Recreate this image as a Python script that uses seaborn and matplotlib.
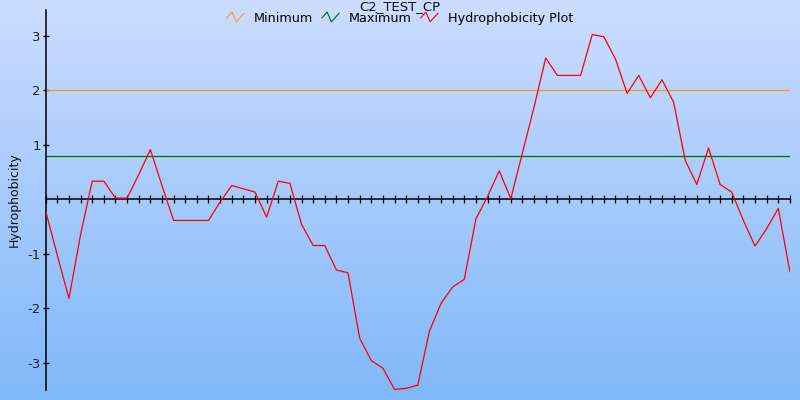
import numpy as np
import pandas as pd
import matplotlib
matplotlib.use("Agg")
import matplotlib.pyplot as plt
from matplotlib.lines import Line2D
from matplotlib.legend_handler import HandlerBase
import seaborn as sns

title = "C2_TEST_CP"
y_label = "Hydrophobicity"
series_names = ["Minimum", "Maximum", "Hydrophobicity Plot"]
minimum_value = 2.0
maximum_value = 0.8
hydro = [-0.22, -1.03, -1.82, -0.65, 0.33, 0.33, 0.02, 0.02, 0.45, 0.91,
         0.25, -0.39, -0.39, -0.39, -0.39, -0.05, 0.25, 0.19, 0.13, -0.33,
         0.33, 0.29, -0.46, -0.85, -0.85, -1.30, -1.35, -2.55, -2.96, -3.10,
         -3.49, -3.47, -3.41, -2.42, -1.91, -1.61, -1.47, -0.36, 0.05, 0.52,
         0.01, 0.85, 1.69, 2.59, 2.27, 2.27, 2.27, 3.02, 2.98, 2.57,
         1.94, 2.27, 1.86, 2.19, 1.78, 0.71, 0.27, 0.94, 0.27, 0.13,
         -0.39, -0.86, -0.54, -0.17, -1.33]
positions = list(range(len(hydro)))
y_ticks = [-3, -2, -1, 1, 2, 3]

plt.rcParams['font.family'] = ['DejaVu Sans']

fig = plt.figure(figsize=(8, 4), dpi=100)

# background gradient
bg = fig.add_axes([0, 0, 1, 1], zorder=-10)
grad = np.linspace(0, 1, 256).reshape(-1, 1)
top = np.array([0.80, 0.867, 1.0])
bot = np.array([0.50, 0.72, 0.975])
img = top[None, None, :] * (1 - grad[:, :, None]) + bot[None, None, :] * grad[:, :, None]
bg.imshow(img, aspect='auto', extent=[0, 1, 0, 1])
bg.set_axis_off()

ax = fig.add_axes([45.7 / 800, 10 / 400, (789.9 - 45.7) / 800, 380 / 400])
ax.patch.set_alpha(0)

df = pd.DataFrame({"x": positions, "y": hydro})
ax.axhline(minimum_value, color="#f0a020", lw=0.9, zorder=2)
ax.axhline(maximum_value, color="#007000", lw=0.9, zorder=2)
sns.lineplot(data=df, x="x", y="y", ax=ax, color="#ff0000", lw=0.9, zorder=3)

ax.set_xlim(0, len(hydro) - 1)
ax.set_ylim(-3.5, 3.47)
ax.spines['top'].set_visible(False)
ax.spines['right'].set_visible(False)
ax.spines['bottom'].set_position(('data', 0))
ax.spines['bottom'].set_linewidth(1.1)
ax.spines['left'].set_linewidth(1.1)
ax.set_xticks(positions)
ax.set_xticklabels([])
ax.tick_params(axis='x', direction='inout', length=6, width=0.9, color='black')
ax.set_yticks(y_ticks)
ax.set_yticklabels([str(t) for t in y_ticks])
ax.tick_params(axis='y', direction='inout', length=5, width=1.0, labelsize=9.5, pad=1, labelcolor='#222222')
ax.set_xlabel("")
ax.set_ylabel(y_label, fontsize=9, color='#111111')
ax.yaxis.set_label_coords(-0.034, 0.5)


class HandlerZigzag(HandlerBase):
    def create_artists(self, legend, orig_handle, xdescent, ydescent, width, height, fontsize, trans):
        xs = np.array([0.0, 0.3, 0.55, 1.0]) * width - xdescent
        ys = np.array([0.5, 1.15, 0.05, 1.0]) * height - ydescent
        l = Line2D(xs, ys, color=orig_handle.get_color(), lw=0.8, transform=trans)
        return [l]


handles = [Line2D([], [], color="#f0a020"), Line2D([], [], color="#007000"), Line2D([], [], color="#ff0000")]
fig.text(0.5, 0.999, title, ha='center', va='top', fontsize=9.5, color='#111111')
fig.legend(handles, series_names, loc='center', bbox_to_anchor=(0.5, 0.953), ncol=3,
           frameon=False, fontsize=9.2, handlelength=1.33, handletextpad=0.78, columnspacing=0.7,
           handler_map={Line2D: HandlerZigzag()})

fig.savefig("out.png", dpi=100)
